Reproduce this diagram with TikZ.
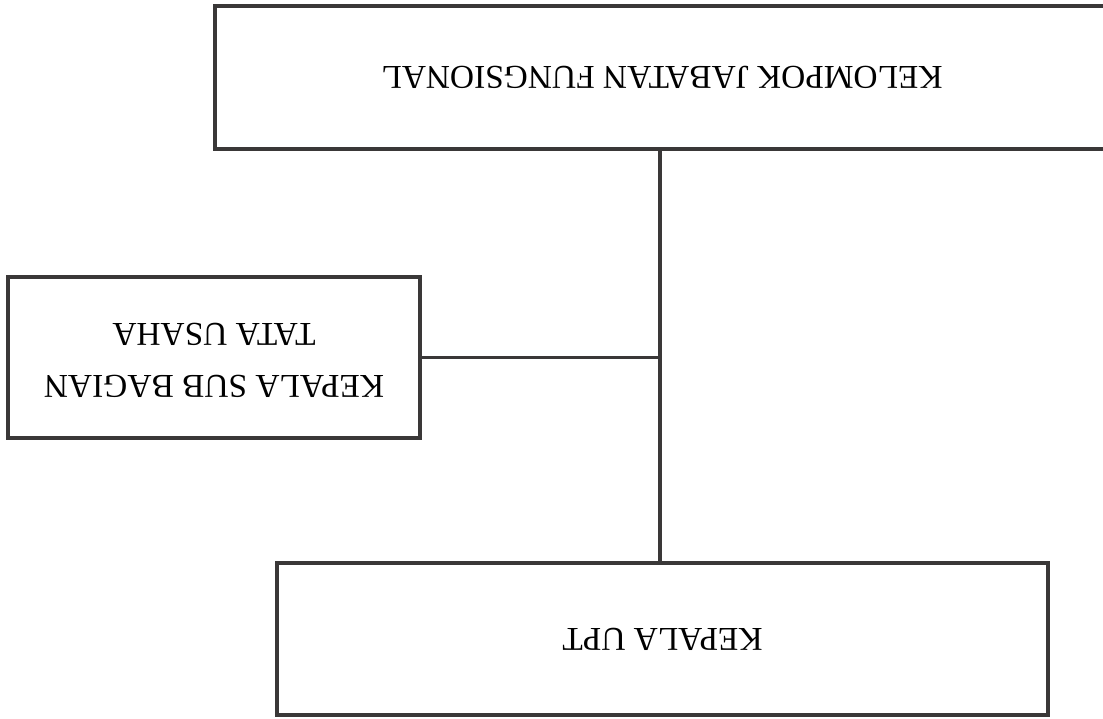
\documentclass[tikz,border=0pt]{standalone}
\usepackage{fontspec}
\setmainfont{Liberation Serif}
\definecolor{inkgray}{HTML}{3A3838}
\tikzset{
  unitbox/.style={draw=inkgray, line width=2.2pt, fill=white, inner sep=0pt,
    font=\fontsize{19}{22.5}\selectfont},
  link/.style={draw=inkgray, line width=2.2pt}
}
\begin{document}
\begin{tikzpicture}[x=0.02cm,y=-0.02cm]
      \useasboundingbox (0,0) rectangle (1103,719);
      \clip (0,0) rectangle (1103,719);
      \fill[white] (0,0) rectangle (1103,719);
      % boxes (the page is printed upside down)
      \node[unitbox, minimum width=17.88cm, minimum height=2.86cm] (jabfung) at (662,77.5)
        {\rotatebox{180}{KELOMPOK JABATAN FUNGSIONAL}};
      \node[unitbox, minimum width=8.24cm, minimum height=3.22cm] (subbag) at (214,357.5)
        {\rotatebox{180}{\begin{tabular}{c}KEPALA SUB BAGIAN\\[7pt]TATA USAHA\end{tabular}}};
      \node[unitbox, minimum width=15.42cm, minimum height=3.04cm] (upt) at (662.5,639)
        {\rotatebox{180}{KEPALA UPT}};
      % lines
      \coordinate (trunk) at (660,149);
      \draw[link] (trunk) -- (trunk |- upt.north);
      \draw[link] (subbag.east) -- (subbag.east -| trunk);
\end{tikzpicture}
\end{document}
